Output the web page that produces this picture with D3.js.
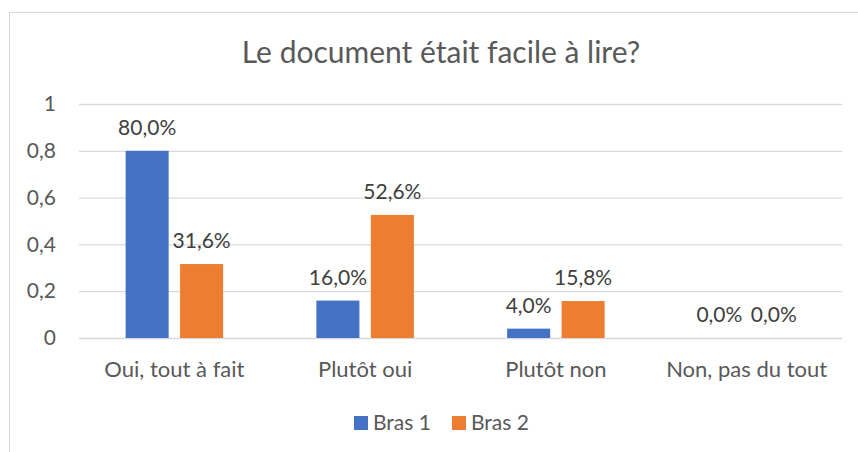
<!DOCTYPE html>
<html>
<head>
<meta charset="utf-8">
<script src="https://cdn.jsdelivr.net/npm/d3@7"></script>
<style>
  body { margin: 0; background: #fff; }
  text { font-family: Lato, "Open Sans", sans-serif; fill: #595959; }
</style>
</head>
<body>
<svg id="chart" width="858" height="452"></svg>
<script>

var categories = ["Oui, tout à fait", "Plutôt oui", "Plutôt non", "Non, pas du tout"];
var seriesNames = ["Bras 1", "Bras 2"];
var bras1 = [0.80, 0.16, 0.04, 0.0];
var bras2 = [0.316, 0.526, 0.158, 0.0];
var yTicks = [0, 0.2, 0.4, 0.6, 0.8, 1];
var title = "Le document était facile à lire?";

var colors = ["#4472C4", "#ED7D31"];

var svg = d3.select("#chart");

// chart area border (runs off the right / bottom edge like the original)
svg.append("rect")
    .attr("x", 9.5).attr("y", 12.5)
    .attr("width", 900).attr("height", 500)
    .attr("fill", "none")
    .attr("stroke", "#d9d9d9");

var plotLeft = 79, plotRight = 842, plotTop = 104, plotBottom = 338;

var y = d3.scaleLinear().domain([0, 1]).range([plotBottom, plotTop]);

var x0 = d3.scaleBand()
    .domain(categories)
    .range([plotLeft, plotRight])
    .paddingInner(0.489)
    .paddingOuter(0.2445);

var x1 = d3.scaleBand()
    .domain(seriesNames)
    .range([0, x0.bandwidth()])
    .paddingInner(0.21);

var fmt = v => d3.format(".1f")(v * 100).replace(".", ",") + "%";
var tickFmt = v => String(v).replace(".", ",");

svg.append("text")
    .attr("x", 441).attr("y", 63)
    .attr("text-anchor", "middle")
    .style("font-size", "30px")
    .text(title);

// gridlines + y labels
var yAxis = svg.append("g")
    .attr("transform", "translate(" + plotLeft + ",0)")
    .call(d3.axisLeft(y).tickValues(yTicks).tickFormat(tickFmt)
        .tickSize(-(plotRight - plotLeft)).tickPadding(23));
yAxis.select(".domain").remove();
yAxis.selectAll("line").attr("stroke", "#d9d9d9").attr("stroke-width", 1.3);
yAxis.selectAll("text").style("font-size", "21px").attr("fill", "#595959")
    .attr("font-family", null);

var rows = categories.map((c, i) => ({ cat: c, vals: [bras1[i], bras2[i]] }));

var group = svg.selectAll(".cat")
    .data(rows)
    .enter().append("g")
    .attr("class", "cat")
    .attr("transform", d => "translate(" + x0(d.cat) + ",0)");

var bars = group.selectAll("g")
    .data(d => d.vals.map((v, j) => ({ name: seriesNames[j], v: v, j: j })))
    .enter().append("g");

bars.append("rect")
    .attr("x", d => x1(d.name))
    .attr("y", d => y(d.v))
    .attr("width", x1.bandwidth())
    .attr("height", d => y(0) - y(d.v))
    .attr("fill", d => colors[d.j]);

bars.append("text")
    .attr("x", d => x1(d.name) + x1.bandwidth() / 2)
    .attr("y", d => y(d.v) - 16)
    .attr("text-anchor", "middle")
    .style("font-size", "21px")
    .style("fill", "#404040")
    .text(d => fmt(d.v));

// category labels
var xAxis = svg.append("g")
    .attr("transform", "translate(0," + plotBottom + ")")
    .call(d3.axisBottom(x0).tickSize(0).tickPadding(23));
xAxis.select(".domain").remove();
xAxis.selectAll("text").style("font-size", "22px").attr("fill", "#595959")
    .attr("font-family", null);

// legend
var legend = svg.append("g");
var legendX = [354, 452];
seriesNames.forEach(function(n, i){
    legend.append("rect")
        .attr("x", legendX[i]).attr("y", 416)
        .attr("width", 14).attr("height", 14)
        .attr("fill", colors[i]);
    legend.append("text")
        .attr("x", legendX[i] + 19).attr("y", 430)
        .style("font-size", "21px")
        .text(n);
});

</script>
</body>
</html>
